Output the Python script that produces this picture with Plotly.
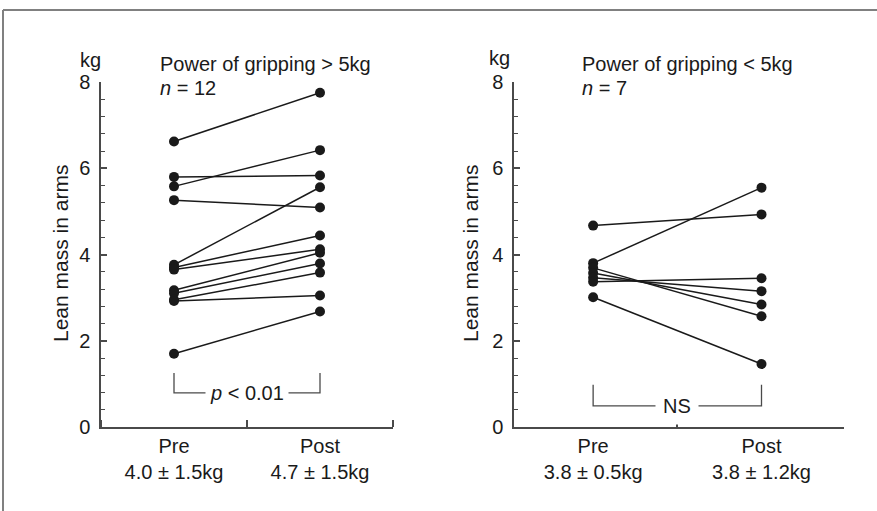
import plotly.graph_objects as go

W, H = 877, 511

# ---- data ----
categories = ["Pre", "Post"]
left_pre = [6.62, 5.80, 5.58, 5.26, 3.76, 3.70, 3.65, 3.17, 3.10, 2.95, 2.92, 1.70]
left_post = [7.75, 5.83, 6.42, 5.09, 5.56, 4.44, 4.12, 4.04, 3.79, 3.58, 3.05, 2.68]
right_pre = [4.67, 3.80, 3.69, 3.57, 3.46, 3.37, 3.01]
right_post = [4.93, 5.55, 2.57, 2.84, 3.15, 3.45, 1.46]
left_ticktext = ["Pre<br>4.0 ± 1.5kg", "Post<br>4.7 ± 1.5kg"]
right_ticktext = ["Pre<br>3.8 ± 0.5kg", "Post<br>3.8 ± 1.2kg"]
left_title = ["Power of gripping > 5kg", "<i>n</i> = 12"]
right_title = ["Power of gripping < 5kg", "<i>n</i> = 7"]
y_ticks = [0, 2, 4, 6, 8]

FONT = "Liberation Sans, Arial, Helvetica, sans-serif"
INK = "#1a1a1a"
AX = "#4a4a4a"

def px_x(p):
    return p / W

def px_y(p):
    return 1 - p / H

fig = go.Figure()
xpos = [1, 2]
for pre, post, xa, ya in [(left_pre, left_post, "x", "y"), (right_pre, right_post, "x2", "y2")]:
    for a, b in zip(pre, post):
        fig.add_trace(go.Scatter(
            x=xpos, y=[a, b], mode="lines+markers", xaxis=xa, yaxis=ya,
            line=dict(color=INK, width=1.5),
            marker=dict(color=INK, size=10), showlegend=False, hoverinfo="skip"))

ydom = [px_y(427), px_y(82)]
common_y = dict(range=[0, 8], domain=ydom, tickvals=y_ticks, ticks="inside", ticklen=6,
                tickcolor=AX, tickwidth=1.5, showline=True, linecolor=AX, linewidth=1.5,
                showgrid=False, zeroline=False, ticklabelstandoff=5, automargin=False,
                tickfont=dict(family=FONT, size=20, color=INK),
                minor=dict(ticks="inside", ticklen=4, dtick=0.4, tick0=0, tickcolor=AX, tickwidth=1.2, showgrid=False))
common_x = dict(tickvals=xpos, ticks="", showline=True, linecolor=AX, linewidth=1.5,
                showgrid=False, zeroline=False, ticklabelstandoff=0, automargin=False,
                tickfont=dict(family=FONT, size=20, color=INK),
                minor=dict(ticks="inside", ticklen=7, dtick=1, tick0=0.5, tickcolor=AX, tickwidth=1.5, showgrid=False))

fig.update_layout(
    width=W, height=H, margin=dict(l=0, r=0, t=0, b=0, pad=0),
    paper_bgcolor="white", plot_bgcolor="white",
    xaxis=dict(domain=[px_x(101), px_x(393)], range=[0.5, 2.5], ticktext=left_ticktext, anchor="y", **common_x),
    yaxis=dict(anchor="x", **common_y),
    xaxis2=dict(domain=[px_x(514), px_x(844)], range=[0.53, 2.49], ticktext=right_ticktext, anchor="y2", **common_x),
    yaxis2=dict(anchor="x2", **common_y),
    font=dict(family=FONT, color=INK),
)

shapes = []
# frame (top and left edges)
shapes.append(dict(type="line", xref="paper", yref="paper", x0=px_x(3), x1=1.0, y0=px_y(10), y1=px_y(10),
                   line=dict(color="#808080", width=2)))
shapes.append(dict(type="line", xref="paper", yref="paper", x0=px_x(3), x1=px_x(3), y0=0, y1=px_y(10),
                   line=dict(color="#808080", width=2)))
# brackets
for xr, yr, top, bot in [("x", "y", 1.25, 0.79), ("x2", "y2", 0.98, 0.49)]:
    shapes.append(dict(type="path", xref=xr, yref=yr,
                       path=f"M 1,{top} L 1,{bot} L 2,{bot} L 2,{top}",
                       line=dict(color=AX, width=1.3)))
fig.update_layout(shapes=shapes)

ann = []
def txt(x, y, s, size=20, xanchor="left", **kw):
    ann.append(dict(x=px_x(x), y=px_y(y), xref="paper", yref="paper", text=s, showarrow=False,
                    xanchor=xanchor, yanchor="middle", font=dict(family=FONT, size=size, color=INK), **kw))

txt(90, 60, "kg", xanchor="center")
txt(499, 58, "kg", xanchor="center")
txt(158, 64, left_title[0])
txt(158, 88, left_title[1])
txt(580, 64, right_title[0])
txt(580, 88, right_title[1])
txt(60, 254, "Lean mass in arms", size=21, xanchor="center", textangle=-90)
txt(470, 254, "Lean mass in arms", size=21, xanchor="center", textangle=-90)

ann.append(dict(x=1.5, y=0.79, xref="x", yref="y", text="<i>p</i> < 0.01", showarrow=False,
                font=dict(family=FONT, size=20, color=INK), bgcolor="white", borderpad=4))
ann.append(dict(x=1.5, y=0.49, xref="x2", yref="y2", text="NS", showarrow=False,
                font=dict(family=FONT, size=20, color=INK), bgcolor="white", borderpad=7))
fig.update_layout(annotations=ann)

fig.write_html("out.html", config={"displayModeBar": False},
               post_script="document.body.style.margin='0';document.body.style.overflow='hidden';")
